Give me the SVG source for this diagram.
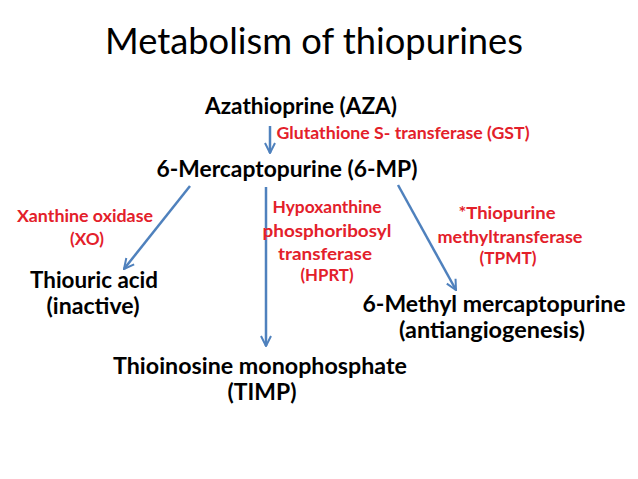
<svg xmlns="http://www.w3.org/2000/svg" width="638" height="479" viewBox="0 0 638 479">
<style>
.t{font-family:Lato,"Open Sans","Liberation Sans",sans-serif;}
.n{font-family:Lato,"Open Sans","Liberation Sans",sans-serif;font-weight:bold;font-size:22px;fill:#000;text-anchor:middle;}
.e{font-family:Lato,"Open Sans","Liberation Sans",sans-serif;font-weight:bold;font-size:17px;fill:#e3202a;text-anchor:middle;}
.c{stroke:#4f81bd;stroke-width:2.5;fill:none;marker-end:url(#ah);}
</style>
<defs>
<marker id="ah" viewBox="0 0 10 10" refX="9" refY="5" markerWidth="5" markerHeight="5" orient="auto" markerUnits="strokeWidth">
<path d="M1,1 L9,5 L1,9" fill="none" stroke="#4f81bd" stroke-width="1.6"/>
</marker>
</defs>
<rect width="638" height="479" fill="#fff"/>
<text class="t" x="314" y="54" font-size="37" text-anchor="middle" fill="#000" textLength="418" lengthAdjust="spacingAndGlyphs">Metabolism of thiopurines</text>
<g id="connectors">
<line class="c" x1="270" y1="126" x2="270" y2="153"/>
<line class="c" x1="190" y1="186" x2="124" y2="269"/>
<line class="c" x1="266" y1="187" x2="266" y2="346"/>
<line class="c" x1="398" y1="185" x2="456" y2="290"/>
</g>
<g id="aza"><text class="n" x="301" y="114" textLength="192" lengthAdjust="spacingAndGlyphs">Azathioprine (AZA)</text></g>
<g id="gst"><text class="e" x="403" y="139" textLength="253" lengthAdjust="spacingAndGlyphs">Glutathione S- transferase (GST)</text></g>
<g id="mp"><text class="n" x="287" y="177" textLength="261" lengthAdjust="spacingAndGlyphs">6-Mercaptopurine (6-MP)</text></g>
<g id="xo"><text class="e" x="85" y="222" textLength="136" lengthAdjust="spacingAndGlyphs">Xanthine oxidase</text><text class="e" x="87" y="245" textLength="34" lengthAdjust="spacingAndGlyphs">(XO)</text></g>
<g id="thiouric"><text class="n" x="94" y="288" textLength="128" lengthAdjust="spacingAndGlyphs">Thiouric acid</text><text class="n" x="93" y="314" textLength="93" lengthAdjust="spacingAndGlyphs">(inactive)</text></g>
<g id="hprt"><text class="e" x="327" y="213" textLength="109" lengthAdjust="spacingAndGlyphs">Hypoxanthine</text><text class="e" x="327" y="237" textLength="129" lengthAdjust="spacingAndGlyphs">phosphoribosyl</text><text class="e" x="325" y="260" textLength="94" lengthAdjust="spacingAndGlyphs">transferase</text><text class="e" x="327" y="281" textLength="53" lengthAdjust="spacingAndGlyphs">(HPRT)</text></g>
<g id="tpmt"><text class="e" x="507" y="219" textLength="97" lengthAdjust="spacingAndGlyphs">*Thiopurine</text><text class="e" x="510" y="243" textLength="145" lengthAdjust="spacingAndGlyphs">methyltransferase</text><text class="e" x="508" y="264" textLength="57" lengthAdjust="spacingAndGlyphs">(TPMT)</text></g>
<g id="mmp"><text class="n" x="494" y="312" textLength="263" lengthAdjust="spacingAndGlyphs">6-Methyl mercaptopurine</text><text class="n" x="492" y="338" textLength="186" lengthAdjust="spacingAndGlyphs">(antiangiogenesis)</text></g>
<g id="timp"><text class="n" x="260" y="374" textLength="294" lengthAdjust="spacingAndGlyphs">Thioinosine monophosphate</text><text class="n" x="262" y="400" textLength="69" lengthAdjust="spacingAndGlyphs">(TIMP)</text></g>
</svg>
